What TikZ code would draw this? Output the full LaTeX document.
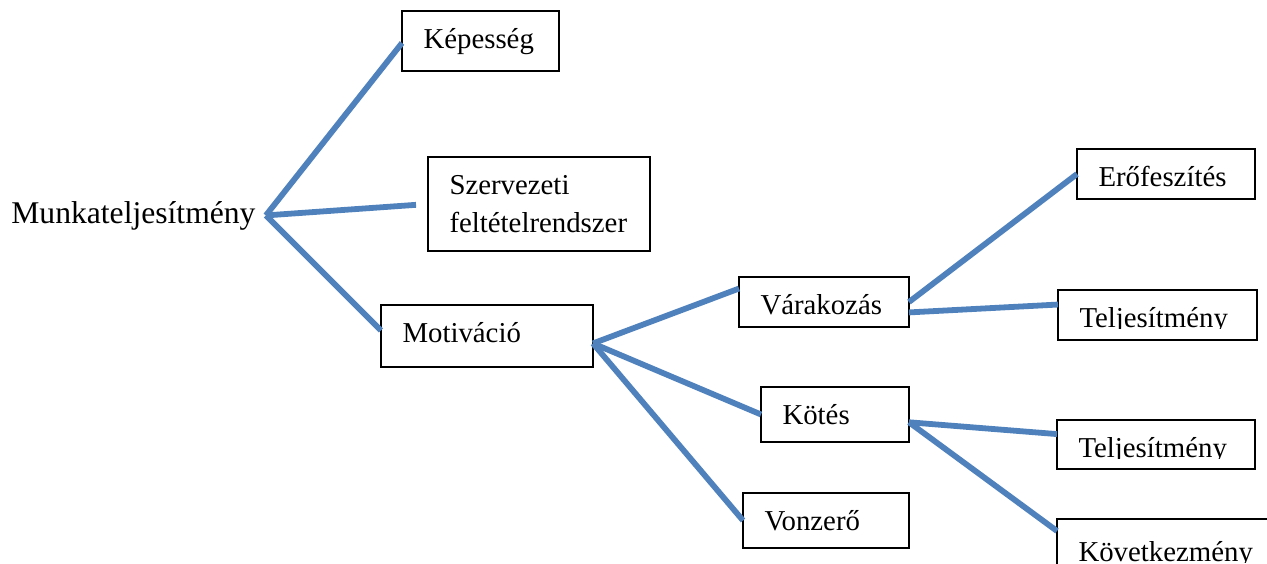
\documentclass[tikz,border=0pt]{standalone}
\usepackage{fontspec}
\setmainfont{Liberation Serif}
\usepackage{tikz}
\definecolor{lineblue}{HTML}{4F81BD}
\newcommand\lblfont{\fontsize{16.4}{21.5}\selectfont}
\newcommand\rootfont{\fontsize{18}{21.6}\selectfont}
\hyphenpenalty=10000
\exhyphenpenalty=10000
\tikzset{
	lbl/.style={anchor=north west, inner xsep=.43cm, inner ysep=0pt, outer sep=0pt, text height=.76cm, align=left, font=\lblfont},
	frame/.style={draw, line width=1.1pt},
	box/.style={lbl, frame},
	conn/.style={line width=3.3pt, draw=lineblue},
}
\begin{document}
\begin{tikzpicture}[x=0.02cm, y=-0.02cm]
			%%%%% START %%%%%
			\useasboundingbox (0, 0) rectangle (1267, 564);
			\clip (0, 0) rectangle (1267, 564);
			
			\node[font=\rootfont, anchor=base west, inner xsep=.2cm, inner ysep=0pt] (munka) at (1, 223) {Munkateljesítmény};
			
			\node[box, text width=2.28cm, text depth=.44cm] (kep) at (402, 11) {Képesség};
			\node[box, text width=3.58cm, text depth=1.12cm] (szerv) at (428, 157) {Szervezeti\\feltételrendszer};
			\node[box, text width=3.38cm, text depth=.48cm] (motiv) at (381, 305) {Motiváció};
			
			\node[box, text width=2.54cm, text depth=.24cm] (vara) at (739, 277) {Várakozás};
			\node[box, text width=2.10cm, text depth=.34cm] (kotes) at (761, 387) {Kötés};
			\node[box, text width=2.46cm, text depth=.34cm] (vonz) at (743, 493) {Vonzerő};
			
			\node[box, text width=2.70cm, text depth=.24cm] (erof) at (1077, 149) {Erőfeszítés};
			
			% text cut off at the baseline
			\begin{scope}
				\clip (1040, 280) rectangle (1267, 328);
				\node[lbl, text width=3.12cm, text depth=.24cm] (telj1) at (1058, 290) {Teljesítmény};
			\end{scope}
			\draw[frame] (telj1.north west) rectangle (telj1.south east);
			
			\begin{scope}
				\clip (1040, 410) rectangle (1267, 458);
				\node[lbl, text width=3.10cm, text depth=.22cm] (telj2) at (1057, 420) {Teljesítmény};
			\end{scope}
			\draw[frame] (telj2.north west) rectangle (telj2.south east);
			
			\begin{scope}
				\clip (1040, 510) rectangle (1267, 562);
				\node[lbl, text width=3.94cm, text height=.86cm, text depth=.8cm] (kov) at (1057, 519) {Következmény};
			\end{scope}
			\draw[frame] (kov.north west) rectangle (kov.south east);
			
			\draw[conn] (munka.east) -- ([yshift=-.04cm]kep.west);
			\draw[conn, shorten >=.24cm] (munka.east) -- (szerv.west);
			\draw[conn] (munka.east) -- (motiv.177);
			
			\draw[conn] (motiv.-4) -- (vara.171);
			\draw[conn] (motiv.-4) -- (kotes.west);
			\draw[conn] (motiv.-4) -- (vonz.west);
			
			\draw[conn] (vara.east) -- (erof.west);
			\draw[conn] (vara.-7) -- (telj1.174);
			\draw[conn] (kotes.-6) -- (telj2.174);
			\draw[conn] (kotes.-6) -- ([yshift=-.24cm]kov.north west);
			
			%%%%% END %%%%%
\end{tikzpicture}
\end{document}
